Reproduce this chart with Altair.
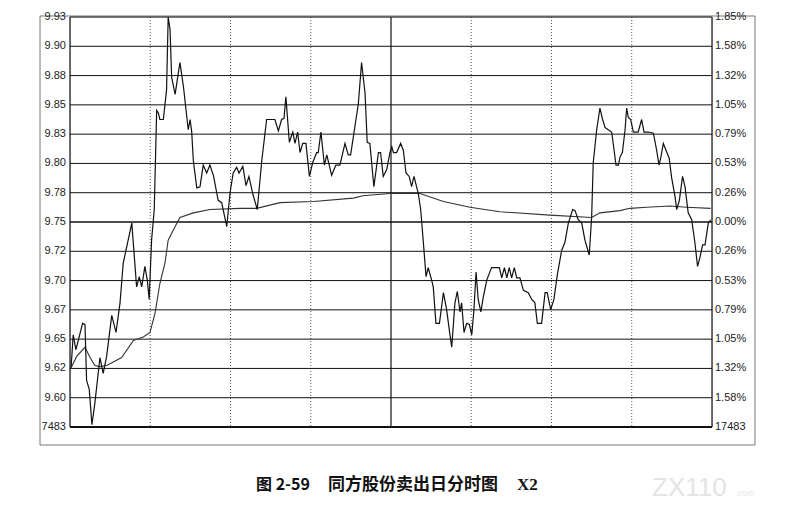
import altair as alt
import pandas as pd

# ---- data (minute since 9:30, price) ----
price_min = [0.4, 1.2, 2.2, 3.1, 4.7, 5.6, 6.2, 7.2, 8.2, 9.3, 11.2, 12.4, 13.7, 15.6, 17.2, 18.7, 19.9, 23.1, 24.9, 25.9,
             26.8, 28.0, 28.9, 29.6, 30.5, 31.5, 32.4, 33.0, 33.6, 34.9, 36.1, 36.7, 37.4, 38.0, 39.3, 40.5, 41.1, 42.4, 44.2, 44.9,
             45.5, 46.1, 47.4, 48.6, 49.8, 51.1, 52.3, 53.6, 55.4, 56.7, 58.6, 59.8, 61.0, 62.3, 63.2, 64.6, 65.8, 66.9, 68.3, 70.0,
             71.7, 73.5, 76.6, 77.9, 79.1, 80.0, 80.7, 82.0, 83.3, 84.1, 85.1, 86.0, 87.0, 88.2, 89.5, 90.7, 92.2, 92.8, 93.8, 95.1,
             96.0, 97.8, 99.4, 100.9, 102.8, 104.0, 104.9, 106.2, 107.8, 109.0, 110.3, 111.1, 112.1, 113.6, 115.3, 116.1, 117.1, 118.4, 119.6, 120.3,
             120.9, 122.1, 123.6, 124.6, 125.6, 126.8, 127.7, 128.6, 130.2, 131.1, 132.1, 133.1, 133.9, 135.2, 135.8, 136.8, 138.1, 139.6, 140.8, 141.8,
             142.7, 143.9, 144.8, 145.8, 146.4, 147.3, 148.3, 149.3, 150.2, 151.0, 151.8, 152.6, 153.6, 154.5, 155.8, 157.6, 160.5, 161.4, 162.4, 163.3,
             164.2, 165.1, 166.1, 167.0, 168.2, 169.5, 171.3, 172.6, 173.8, 174.7, 176.3, 177.6, 178.4, 179.7, 180.9, 182.2, 183.8, 185.0, 186.3, 187.9,
             188.8, 190.0, 191.3, 192.5, 194.1, 195.0, 195.6, 196.9, 198.1, 199.1, 200.0, 201.2, 202.5, 203.4, 204.1, 205.0, 205.6, 206.5, 207.5, 208.1,
             208.7, 209.6, 210.6, 212.4, 213.7, 214.6, 216.2, 218.1, 219.3, 220.2, 220.9, 221.8, 222.8, 224.0, 224.9, 226.2, 226.8, 227.8, 229.0, 229.9,
             231.1, 232.4, 233.6, 234.6, 235.5, 236.5, 237.4, 238.6, 239.5]
price_val = [9.622, 9.651, 9.638, 9.646, 9.661, 9.660, 9.611, 9.603, 9.572, 9.591, 9.631, 9.617, 9.632, 9.668, 9.653, 9.679, 9.714, 9.749, 9.693, 9.702,
             9.693, 9.711, 9.699, 9.682, 9.734, 9.761, 9.848, 9.846, 9.840, 9.840, 9.866, 9.930, 9.919, 9.877, 9.862, 9.881, 9.890, 9.869, 9.831, 9.840,
             9.829, 9.804, 9.780, 9.781, 9.800, 9.793, 9.800, 9.791, 9.769, 9.767, 9.746, 9.775, 9.793, 9.798, 9.793, 9.799, 9.782, 9.790, 9.775, 9.761,
             9.804, 9.840, 9.840, 9.830, 9.840, 9.841, 9.860, 9.820, 9.829, 9.819, 9.829, 9.811, 9.819, 9.819, 9.790, 9.802, 9.811, 9.811, 9.829, 9.800,
             9.809, 9.791, 9.800, 9.800, 9.819, 9.809, 9.809, 9.829, 9.854, 9.890, 9.863, 9.820, 9.819, 9.781, 9.811, 9.811, 9.790, 9.796, 9.811, 9.816,
             9.811, 9.811, 9.819, 9.813, 9.793, 9.790, 9.781, 9.790, 9.775, 9.761, 9.732, 9.702, 9.710, 9.699, 9.693, 9.661, 9.661, 9.688, 9.673, 9.655,
             9.640, 9.679, 9.689, 9.671, 9.679, 9.653, 9.661, 9.660, 9.651, 9.673, 9.706, 9.682, 9.671, 9.684, 9.699, 9.710, 9.710, 9.701, 9.710, 9.701,
             9.710, 9.701, 9.710, 9.701, 9.701, 9.690, 9.688, 9.682, 9.679, 9.661, 9.661, 9.688, 9.688, 9.673, 9.682, 9.704, 9.725, 9.732, 9.749, 9.761,
             9.760, 9.752, 9.749, 9.734, 9.721, 9.754, 9.802, 9.831, 9.850, 9.840, 9.833, 9.831, 9.829, 9.813, 9.800, 9.800, 9.807, 9.811, 9.831, 9.850,
             9.842, 9.840, 9.829, 9.829, 9.840, 9.829, 9.829, 9.828, 9.813, 9.800, 9.807, 9.819, 9.813, 9.806, 9.789, 9.772, 9.761, 9.769, 9.790, 9.781,
             9.758, 9.752, 9.732, 9.711, 9.719, 9.730, 9.730, 9.749, 9.752]

avg_min = [0.4, 2.5, 5.6, 7.5, 9.3, 11.2, 13.7, 16.2, 19.3, 23.7, 27.4, 29.9, 31.8, 33.6, 35.5, 36.7, 39.3, 41.1, 46.1, 52.3,
           63.6, 69.8, 78.5, 91.0, 105.9, 109.5, 119.6, 127.1, 130.8, 139.6, 149.5, 160.7, 179.4, 195.0, 198.1, 205.6, 209.3, 215.6, 224.3, 230.5, 239.5]
avg_val = [9.622, 9.632, 9.640, 9.631, 9.624, 9.623, 9.624, 9.627, 9.631, 9.646, 9.649, 9.653, 9.670, 9.696, 9.714, 9.734, 9.746, 9.754, 9.758, 9.761,
           9.762, 9.762, 9.767, 9.768, 9.771, 9.773, 9.775, 9.775, 9.775, 9.768, 9.763, 9.759, 9.756, 9.754, 9.758, 9.760, 9.762, 9.763, 9.764, 9.763, 9.762]

# ---- axis labels ----
left_labels = ["9.93", "9.90", "9.88", "9.85", "9.83", "9.80", "9.78", "9.75",
               "9.72", "9.70", "9.67", "9.65", "9.62", "9.60", "7483"]
right_labels = ["1.85%", "1.58%", "1.32%", "1.05%", "0.79%", "0.53%", "0.26%", "0.00%",
                "0.26%", "0.53%", "0.79%", "1.05%", "1.32%", "1.58%", "17483"]
prev_close = 9.75
step = 0.18 / 7
tick_pos = [prev_close + k * step for k in range(7, -8, -1)]
grid_width = [1, 1, 1, 1, 1, 1, 1, 1.6, 1, 1, 1, 1, 1, 1, 2.2]

vline_min = [30, 60, 90, 150, 180, 210]
noon_min = [120]

W, H = 642, 410
X = alt.X("m:Q", scale=alt.Scale(domain=[0, 240], nice=False, zero=False), axis=None)
YS = alt.Scale(domain=[tick_pos[-1], tick_pos[0]], nice=False, zero=False)

price_df = pd.DataFrame({"m": price_min, "p": price_val})
avg_df = pd.DataFrame({"m": avg_min, "p": avg_val})
tick_df = pd.DataFrame({"p": tick_pos, "l": left_labels, "r": right_labels, "w": grid_width})
vl_df = pd.DataFrame({"m": vline_min})
noon_df = pd.DataFrame({"m": noon_min})
edge_df = pd.DataFrame({"m": [0, 240]})

hgrid = alt.Chart(tick_df).mark_rule(color="#111111").encode(
    y=alt.Y("p:Q", scale=YS, axis=None),
    strokeWidth=alt.StrokeWidth("w:Q", scale=None, legend=None),
)
vgrid = alt.Chart(vl_df).mark_rule(color="#555555", strokeWidth=1, strokeDash=[1, 2]).encode(x=X)
noon = alt.Chart(noon_df).mark_rule(color="#111111", strokeWidth=1.2).encode(x=X)
edges = alt.Chart(edge_df).mark_rule(color="#111111", strokeWidth=1.2).encode(x=X)

avg_line = alt.Chart(avg_df).mark_line(color="#333333", strokeWidth=1.1).encode(
    x=X, y=alt.Y("p:Q", scale=YS, axis=None))
price_line = alt.Chart(price_df).mark_line(color="#111111", strokeWidth=1.2).encode(
    x=X, y=alt.Y("p:Q", scale=YS, axis=None))

left_txt = alt.Chart(tick_df).mark_text(
    align="right", baseline="middle", dx=-4, font="Liberation Sans", fontSize=11, color="#222222"
).encode(x=alt.value(0), y=alt.Y("p:Q", scale=YS, axis=None), text="l:N")
right_txt = alt.Chart(tick_df).mark_text(
    align="left", baseline="middle", dx=3, font="Liberation Sans", fontSize=11, color="#222222"
).encode(x=alt.value(W), y=alt.Y("p:Q", scale=YS, axis=None), text="r:N")

# outer frame of the figure
frame = alt.Chart(pd.DataFrame({"a": [0]})).mark_rect(
    fill=None, fillOpacity=0, stroke="#777777", strokeWidth=1
).encode(x=alt.value(-30), x2=alt.value(685), y=alt.value(-1), y2=alt.value(428))

cap_df = pd.DataFrame({"a": [0]})
cap1 = alt.Chart(cap_df).mark_text(
    text="图 2-59", align="left", baseline="middle", font="Noto Sans CJK SC",
    fontWeight="bold", fontSize=16, color="#111111"
).encode(x=alt.value(186), y=alt.value(468))
cap2 = alt.Chart(cap_df).mark_text(
    text="同方股份卖出日分时图", align="left", baseline="middle", font="Noto Sans CJK SC",
    fontWeight="bold", fontSize=17, color="#111111"
).encode(x=alt.value(258), y=alt.value(468))
cap3 = alt.Chart(cap_df).mark_text(
    text="X2", align="left", baseline="middle", font="Liberation Serif",
    fontWeight="bold", fontSize=17, color="#111111"
).encode(x=alt.value(447), y=alt.value(468))
wm1 = alt.Chart(cap_df).mark_text(
    text="ZX110", align="left", baseline="middle", font="Liberation Sans",
    fontSize=26, color="#e4e4e4"
).encode(x=alt.value(582), y=alt.value(471))
wm2 = alt.Chart(cap_df).mark_text(
    text=".com", align="left", baseline="middle", font="Liberation Sans",
    fontSize=9, color="#e4e4e4"
).encode(x=alt.value(665), y=alt.value(476))

chart = alt.layer(
    frame, vgrid, hgrid, noon, edges, avg_line, price_line,
    left_txt, right_txt, cap1, cap2, cap3, wm1, wm2
).properties(
    width=W, height=H,
    autosize=alt.AutoSizeParams(type="none"),
    padding={"left": 62, "top": 9, "right": 60, "bottom": 80},
).configure_view(stroke=None).configure(background="white")

chart.save("out.html", embed_options={"renderer": "svg", "actions": False})
